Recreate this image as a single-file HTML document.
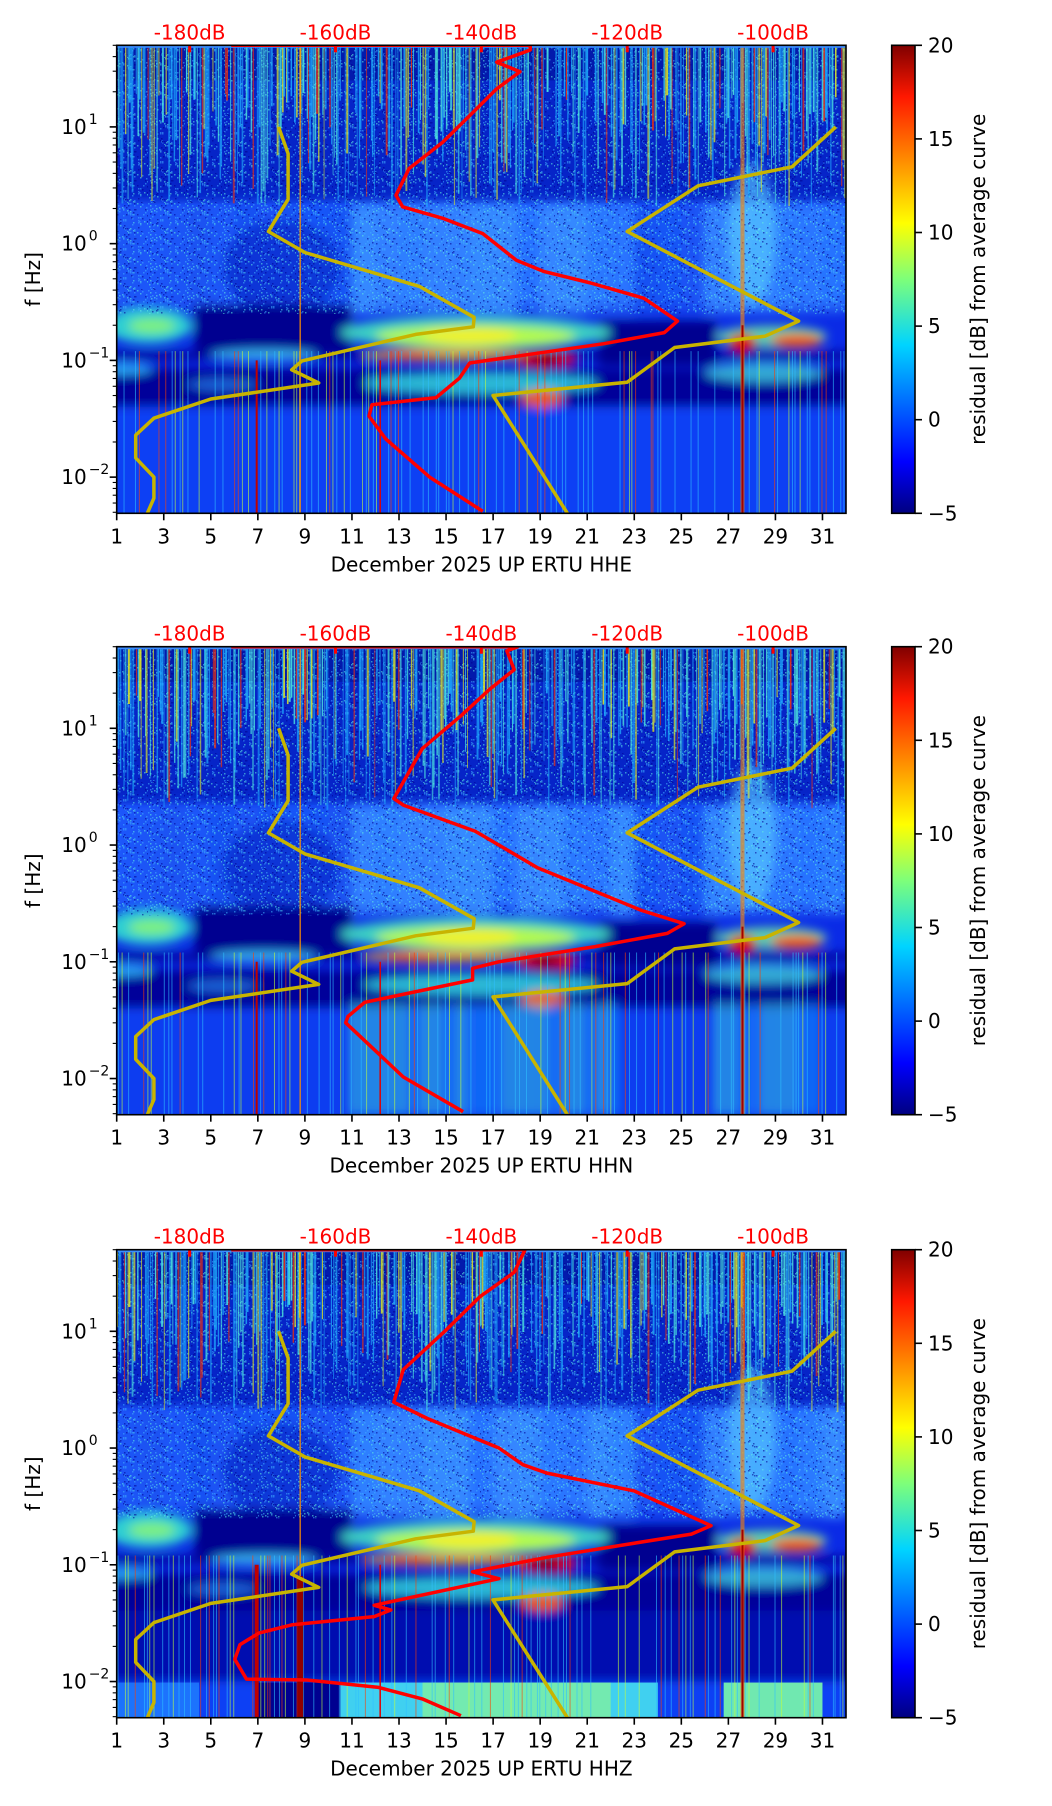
<!DOCTYPE html>
<html><head><meta charset="utf-8">
<style>
html,body{margin:0;padding:0;background:#fff;}
svg{display:block;font-family:"DejaVu Sans","Liberation Sans",sans-serif;}
</style></head>
<body>
<svg id="fig" xmlns="http://www.w3.org/2000/svg" width="1052" height="1806" viewBox="0 0 1052 1806">
<defs>
<filter id="blur6" x="-20%" y="-20%" width="140%" height="140%"><feGaussianBlur stdDeviation="5"/></filter>
<linearGradient id="jet" x1="0" y1="1" x2="0" y2="0">
<stop offset="0" stop-color="#000080"/><stop offset="0.11" stop-color="#0000ff"/><stop offset="0.36" stop-color="#00d4ff"/><stop offset="0.5" stop-color="#7dff7a"/><stop offset="0.62" stop-color="#ffff00"/><stop offset="0.89" stop-color="#ff1800"/><stop offset="1" stop-color="#800000"/>
</linearGradient>
<pattern id="noise" width="37" height="29" patternUnits="userSpaceOnUse"></pattern>
</defs>
</svg>
<script>
// ---- data ----
const dayTicks = [1,3,5,7,9,11,13,15,17,19,21,23,25,27,29,31];
const dbTicks = [-180,-160,-140,-120,-100];
const cbTicks = [-5,0,5,10,15,20];
const yTickExp = [1,0,-1,-2];
const channels = ["HHE","HHN","HHZ"];
// red average PSD curve per panel (frequency Hz, dB)
const red1F = [50,50,45.6,35.8,29.7,21.2,12.5,7.4,4.4,2.6,2.07,1.65,1.22,0.72,0.58,0.46,0.34,0.217,0.173,0.139,0.115,0.095,0.0705,0.048,0.0417,0.0333,0.0212,0.01,0.0051];
const red1D = [-174.3,-133.3,-133.3,-137.9,-134.7,-137.9,-141.6,-145.3,-149.9,-151.7,-150.8,-145.3,-139.8,-135.2,-131.5,-125,-117.7,-113.1,-114.9,-123.2,-132.4,-141.6,-143,-146.2,-155,-155.4,-153.1,-147.1,-139.8];
const red2F = [50,50,46,31.8,21.5,12.8,6.7,2.5,2.2,1.31,0.64,0.275,0.212,0.175,0.135,0.1,0.088,0.07,0.045,0.034,0.030,0.0103,0.0052];
const red2D = [-174.3,-135,-136.5,-135.5,-138.9,-142.8,-148.1,-152,-150.7,-140.8,-132.3,-118,-112.2,-114.5,-124.4,-137.6,-141.2,-141.2,-156,-158.3,-158.6,-150.7,-142.5];
const red3F = [50,50,32,19.8,10.3,4.7,2.47,1.79,1.0,0.72,0.61,0.43,0.216,0.183,0.146,0.116,0.087,0.076,0.045,0.041,0.036,0.0307,0.026,0.0207,0.0155,0.0105,0.0103,0.0089,0.0071,0.0051];
const red3D = [-174.3,-134,-135.5,-140.2,-144.8,-150.7,-152,-147.4,-137.6,-134.3,-131,-119.1,-108.5,-111.2,-121.1,-131,-141.2,-137.6,-154.7,-152.4,-154.7,-165.9,-170.5,-173.1,-173.8,-172.2,-163.9,-154.1,-148.1,-142.8];
// Peterson low / high noise models (Hz, dB)
const nlnmF = [10,5.9,2.4,1.27,0.84,0.43,0.234,0.194,0.167,0.099,0.083,0.064,0.0467,0.032,0.0229,0.0146,0.01,0.0066,0.0049];
const nlnmD = [-167.8,-166.5,-166.5,-169.2,-164.2,-148.5,-141,-141.1,-149,-164.6,-166,-162.3,-177.1,-184.9,-187.4,-187.4,-184.9,-184.9,-185.8];
const nhnmF = [10,4.55,3.13,1.27,0.217,0.161,0.129,0.065,0.050,0.0049];
const nhnmD = [-91.4,-97.4,-110.3,-120,-96.5,-101.1,-113.5,-120,-138.4,-128.2];
const redF = [red1F,red2F,red3F], redD = [red1D,red2D,red3D];

// ---- layout ----
const NS="http://www.w3.org/2000/svg";
const svg=document.getElementById('fig');
const L=116.7, R=846, H=468, tops=[45.3,646.7,1249.7];
const FMAX=Math.log10(50), FMIN=Math.log10(0.0049);
const X=d=>L+(d-1)*(R-L)/31;
const XDB=db=>L+(db+190)*(R-L)/100;
function mk(tag,attrs,parent){const e=document.createElementNS(NS,tag);for(const k in attrs)e.setAttribute(k,attrs[k]);(parent||svg).appendChild(e);return e;}
function hash(i){const s=Math.sin(i*12.9898+78.233)*43758.5453;return s-Math.floor(s);}
// noise texture tile
const pat=document.getElementById('noise');
for(let i=0;i<70;i++){mk('rect',{x:Math.floor(hash(i*3)*37),y:Math.floor(hash(i*3+1)*29),width:1.5,height:1.5,fill:hash(i*3+2)<0.7?'#40b0ff':'#60f0e0'},pat);}
for(let i=0;i<30;i++){mk('rect',{x:Math.floor(hash(i*5+400)*37),y:Math.floor(hash(i*5+401)*29),width:1.5,height:1.5,fill:'#000090'},pat);}

tops.forEach((T,p)=>{
  const Y=f=>T+(FMAX-Math.log10(f))/(FMAX-FMIN)*H;
  const g=mk('g',{});
  
  
  const cp=mk('clipPath',{id:'clip'+p},svg.querySelector('defs'));
  mk('rect',{x:L,y:T,width:R-L,height:H},cp);
  const hm=mk('g',{'clip-path':'url(#clip'+p+')'},g);
  
  
  const box=(d0,d1,f0,f1,c,op,parent)=>mk('rect',{x:X(d0),y:Y(f1),width:X(d1)-X(d0),height:Y(f0)-Y(f1),fill:c,opacity:op??1},parent||hm);
  const ell=(d0,d1,f0,f1,c,op,parent)=>{const x0=X(d0),x1=X(d1),y0=Y(f1),y1=Y(f0);return mk('ellipse',{cx:(x0+x1)/2,cy:(y0+y1)/2,rx:(x1-x0)/2,ry:(y1-y0)/2,fill:c,opacity:op??1},parent||hm);};
  box(0,33,0.001,60,'#0a2ae6');
  box(0,33,2.2,60,'#0624c8');
  box(0,33,25,60,'#001090',0.5);
  const soft=mk('g',{filter:'url(#blur6)'},hm);
  box(0,33,0.3,2.3,'#1a5cff',1,soft);
  // vertical column brightening in mid band
  for(let i=0;i<31;i++){const h=hash(i+100+p);const d=1+i;
    const c=(d>=11&&d<=22)||(d>=26&&d<=31)?'#3a90ff':'#1a50f0';
    box(d,d+1,0.25,2.2,c,0.4+h*0.5,soft);}
  ell(27,29,0.3,5,'#5cd0ff',0.6,soft);
  ell(5.5,10.5,0.25,1.6,'#0a30d0',0.8,soft);
  box(4.3,11,0.12,0.3,'#000090',1,soft);
  box(21.5,26.5,0.09,0.22,'#000090',1,soft);
  box(0,33,0.04,0.085,'#00009a',1,soft);
  box(0,33,0.1,0.12,'#000090',0.8,soft);
  box(0,33,0.001,0.04,p===1?'#0a3cf0':'#0a40f4',1,soft);
  ell(0.5,4.2,0.14,0.28,'#30e0d0',0.9,soft);
  ell(1.5,3.5,0.17,0.23,'#a0ff60',0.7,soft);
  ell(10.5,22,0.125,0.24,'#40e0c0',0.9,soft);
  ell(12,20.5,0.13,0.2,'#c0ff40',0.9,soft);
  ell(14,18,0.14,0.19,'#ffef20',0.8,soft);
  ell(11.5,18.5,0.1,0.125,'#ffb000',0.85,soft);
  ell(12.3,14.5,0.102,0.118,'#ff5000',0.8,soft);
  ell(18,20.5,0.088,0.118,'#e00000',1,soft);
  ell(18.6,19.8,0.092,0.11,'#800000',1,soft);
  ell(11.5,21.5,0.052,0.078,'#30d8e0',0.85,soft);
  ell(18.2,20,0.04,0.056,'#ff6000',0.9,soft);
  ell(5,9.5,0.1,0.125,'#40d0ff',0.8,soft);
  ell(0,2.5,0.075,0.095,'#30c0ff',0.8,soft);
  ell(26.5,31.2,0.13,0.2,'#70f0a0',0.8,soft);
  ell(27,28.2,0.12,0.17,'#e00000',1,soft);
  ell(28.8,31,0.13,0.17,'#ff5000',0.9,soft);
  ell(26,31,0.065,0.095,'#40d0e0',0.8,soft);
  ell(4,7,0.055,0.07,'#30a0ff',0.6,soft);
  if(p===1){ for(let i=0;i<40;i++){const d=11+i*0.5;if(d>22&&d<26.5)continue;box(d,d+0.25,0.005,0.045,hash(i+5)>0.5?'#40e0d0':'#20a0ff',0.7,soft);} }
  if(p===2){
    box(0,33,0.01,0.04,'#0010b0',1,soft);
    box(10.5,24,0.003,0.0098,'#40d0f0',1);
    box(14,22,0.003,0.0098,'#80f0a0',0.8);
    box(26.8,31,0.003,0.0098,'#70e8b0',1);
    box(1,4.5,0.003,0.0098,'#2080ff',0.8);
    box(7,10.5,0.003,0.0098,'#000090',1);
  }
  // pixel noise in upper / mid bands
  box(0,33,0.25,50,'url(#noise)',0.55);
  // vertical streaks (texture)
  const sg=mk('g',{},hm);
  for(let i=0;i<420;i++){
    const d=1+i*0.074+hash(i*3+p)*0.04, h=hash(i+p*7), h2=hash(i*7+1);
    if(h<0.3)continue;
    const c=h<0.6?'#20b0ff':h<0.82?'#50f0e0':h<0.94?'#e8f020':'#ff3000';
    const fEnd=Math.pow(10,0.3+h2*1.0);
    mk('line',{x1:X(d),x2:X(d),y1:T,y2:Y(fEnd),stroke:c,'stroke-width':0.8+hash(i+11)*1.2,opacity:0.55+h2*0.3},sg);
  }
  for(let i=0;i<200;i++){
    const d=1+i*0.155+hash(i*5+p)*0.1, h=hash(i*13+p);
    if(h<0.5)continue;
    const c=h<0.8?'#30c0ff':h<0.93?'#c0ff40':'#ff4000';
    mk('line',{x1:X(d),x2:X(d),y1:Y(0.12),y2:T+H,stroke:c,'stroke-width':1,opacity:0.6},sg);
  }
  mk('line',{x1:X(27.6),x2:X(27.6),y1:T,y2:T+H,stroke:'#ff8000','stroke-width':4,opacity:0.6},hm);
  mk('line',{x1:X(27.6),x2:X(27.6),y1:Y(0.2),y2:T+H,stroke:'#a00000','stroke-width':2},hm);
  mk('line',{x1:X(6.95),x2:X(6.95),y1:Y(0.1),y2:T+H,stroke:'#c00000','stroke-width':p===2?4:2},hm);
  mk('line',{x1:X(8.8),x2:X(8.8),y1:T,y2:T+H,stroke:'#ff9000','stroke-width':1.5,opacity:0.8},hm);
  if(p===2) mk('line',{x1:X(8.8),x2:X(8.8),y1:Y(0.08),y2:T+H,stroke:'#900000','stroke-width':6},hm);
  mk('line',{x1:X(12.2),x2:X(12.2),y1:Y(0.1),y2:T+H,stroke:'#e00000','stroke-width':1.5},hm);
  mk('rect',{x:L,y:T,width:R-L,height:2.5,fill:'#3a8cff'},hm);

  const line=(F,D,col,w,name)=>{
    const pts=F.map((f,i)=>XDB(D[i]).toFixed(1)+','+Y(f).toFixed(1)).join(' ');
    const pl=mk('polyline',{points:pts,fill:'none',stroke:col,'stroke-width':w,'stroke-linejoin':'round'},hm);
    
    
  };
  line(nlnmF,nlnmD,'#c8b400',3.5,'nlnm-curve');
  line(nhnmF,nhnmD,'#c8b400',3.5,'nhnm-curve');
  line(redF[p],redD[p],'#ff0000',3.5,'average-psd-curve');
  dbTicks.forEach(db=>{
    mk('line',{x1:XDB(db),x2:XDB(db),y1:T,y2:T+7,stroke:'#ff0000','stroke-width':3},g);
    const t=mk('text',{x:XDB(db),y:T-6,'text-anchor':'middle','font-size':20,fill:'#ff0000'},g);
    t.textContent=db+'dB';
    
    
  });
  mk('rect',{x:L,y:T,width:R-L,height:H,fill:'none',stroke:'#000','stroke-width':1.6},g);
  dayTicks.forEach(d=>{
    mk('line',{x1:X(d),x2:X(d),y1:T+H,y2:T+H+7,stroke:'#000','stroke-width':1.6},g);
    const t=mk('text',{x:X(d),y:T+H+30,'text-anchor':'middle','font-size':20,fill:'#000'},g);
    t.textContent=d;
    
    
  });
  for(let e=-3;e<=1;e++){for(let m=1;m<10;m++){const f=m*Math.pow(10,e);if(f<0.0049||f>50)continue;
    mk('line',{x1:L,x2:L-(m===1?7:4),y1:Y(f),y2:Y(f),stroke:'#000','stroke-width':m===1?1.6:1.1},g);}}
  yTickExp.forEach(e=>{
    const t=mk('text',{x:L-30,y:Y(Math.pow(10,e))+7,'text-anchor':'end','font-size':20,fill:'#000'},g);
    t.textContent='10';
    
    
    const s=mk('text',{x:L-28,y:Y(Math.pow(10,e))-3,'text-anchor':'start','font-size':14,fill:'#000'},g);
    s.textContent=e<0?'\u2212'+(-e):String(e);
  });
  const yl=mk('text',{x:0,y:0,transform:`translate(40,${T+H/2}) rotate(-90)`,'text-anchor':'middle','font-size':20,fill:'#000'},g);
  yl.textContent='f [Hz]';
  
  
  const xl=mk('text',{x:(L+R)/2,y:T+H+58,'text-anchor':'middle','font-size':20,fill:'#000'},g);
  xl.textContent='December 2025 UP ERTU  '+channels[p];
  
  
  const cb=mk('g',{},g);
  
  
  mk('rect',{x:891.7,y:T,width:23.3,height:H,fill:'url(#jet)',stroke:'#000','stroke-width':1.6},cb);
  cbTicks.forEach(v=>{
    const yy=T+H-(v+5)/25*H;
    mk('line',{x1:915,x2:922,y1:yy,y2:yy,stroke:'#000','stroke-width':1.6},cb);
    const t=mk('text',{x:928,y:yy+7,'font-size':20,fill:'#000'},cb);
    t.textContent=v<0?'\u2212'+(-v):String(v);
    
    
  });
  const cl=mk('text',{x:0,y:0,transform:`translate(985,${T+H/2}) rotate(-90)`,'text-anchor':'middle','font-size':20,fill:'#000'},cb);
  cl.textContent='residual [dB] from average curve';
  
  
});
</script>
</body></html>
